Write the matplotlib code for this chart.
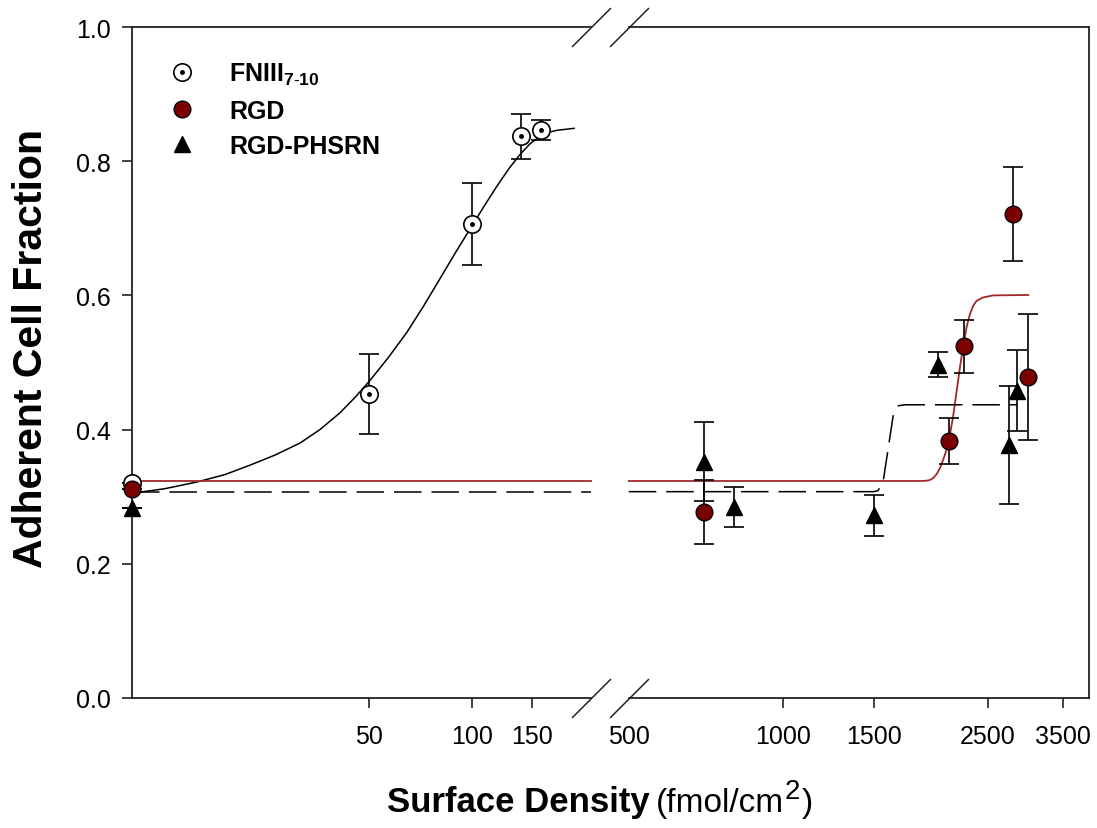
import numpy as np
import matplotlib
matplotlib.use("Agg")
import matplotlib.pyplot as plt
from matplotlib.path import Path
from matplotlib.legend_handler import HandlerTuple

plt.rcParams["font.family"] = ["Liberation Sans", "DejaVu Sans"]
plt.rcParams["mathtext.fontset"] = "custom"
plt.rcParams["mathtext.rm"] = "Liberation Sans"
plt.rcParams["mathtext.bf"] = "Liberation Sans:bold"

# --- data ---
fn_x = [10, 50, 100, 140, 160]
fn_y = [0.320, 0.453, 0.706, 0.837, 0.846]
fn_err = [0.0, 0.059, 0.061, 0.033, 0.015]

rgd_x = [10, 700, 2100, 2250, 2800, 3000]
rgd_y = [0.311, 0.277, 0.383, 0.524, 0.721, 0.479]
rgd_err = [0.0, 0.048, 0.035, 0.040, 0.070, 0.094]

ph_x = [10, 700, 800, 1500, 2000, 2750, 2850]
ph_y = [0.283, 0.352, 0.285, 0.272, 0.497, 0.377, 0.458]
ph_err = [0.0, 0.059, 0.030, 0.030, 0.019, 0.088, 0.060]

# fitted curves (left and right of the axis break)
fn_fit_x = [10, 12.55, 15.6, 18.83, 22.3, 26.4, 31.3, 35.8, 41.0, 45.4, 50, 56.8, 64.5, 72.4,
            80.7, 89.9, 100, 109.4, 118.7, 128.7, 138.7, 148.4, 158.8, 168, 178, 200]
fn_fit_y = [0.305, 0.312, 0.322, 0.333, 0.347, 0.362, 0.380, 0.400, 0.425, 0.448, 0.472, 0.507,
            0.545, 0.585, 0.625, 0.665, 0.703, 0.735, 0.763, 0.789, 0.810, 0.826, 0.837, 0.843,
            0.846, 0.849]

rgd_fit_left_x = [10, 224]
rgd_fit_left_y = [0.3234, 0.3234]
rgd_fit_right_x = [500, 1850, 1900, 1931, 1960, 1990, 2020, 2050, 2075, 2100, 2140, 2176, 2210,
                   2241, 2275, 2309, 2345, 2380, 2450, 2564, 3000]
rgd_fit_right_y = [0.3234, 0.3234, 0.3238, 0.325, 0.328, 0.334, 0.343, 0.356, 0.368, 0.383,
                   0.418, 0.458, 0.495, 0.525, 0.553, 0.572, 0.585, 0.592, 0.597, 0.600, 0.6006]

ph_fit_left_x = [10, 224]
ph_fit_left_y = [0.3075, 0.3075]
ph_fit_right_x = [500, 1500, 1529, 1565, 1599, 1636, 1674, 1726, 2850]
ph_fit_right_y = [0.3075, 0.3075, 0.309, 0.323, 0.37, 0.42, 0.4355, 0.437, 0.437]

xticks = [50, 100, 150, 500, 1000, 1500, 2500, 3500]
yticks = [0.0, 0.2, 0.4, 0.6, 0.8, 1.0]

# --- broken log axis: 10..224 on the left, 500..~3940 on the right ---
X_BRK, X_R0, X_MAX = 224.3, 500.0, 3939
DEC_L, DEC_R, U_R0 = 340.2, 513.4, 497.3
U_BRK = (np.log10(X_BRK) - 1) * DEC_L


def fwd(x):
    x = np.asarray(x, float)
    lx = np.log10(np.clip(x, 1e-9, None))
    uL = (lx - 1) * DEC_L
    uR = U_R0 + (lx - np.log10(X_R0)) * DEC_R
    uB = U_BRK + (lx - np.log10(X_BRK)) / (np.log10(X_R0) - np.log10(X_BRK)) * (U_R0 - U_BRK)
    return np.where(x <= X_BRK, uL, np.where(x >= X_R0, uR, uB))


def inv(u):
    u = np.asarray(u, float)
    lL = 1 + u / DEC_L
    lR = np.log10(X_R0) + (u - U_R0) / DEC_R
    lB = np.log10(X_BRK) + (u - U_BRK) / (U_R0 - U_BRK) * (np.log10(X_R0) - np.log10(X_BRK))
    return 10 ** np.where(u <= U_BRK, lL, np.where(u >= U_R0, lR, lB))


fig = plt.figure(figsize=(10.97, 8.29), dpi=100)
ax = fig.add_axes([131.5 / 1097, 130 / 829, 957.5 / 1097, 671 / 829])
ax.set_xscale("function", functions=(fwd, inv))
ax.set_xlim(10, X_MAX)
ax.set_ylim(0, 1)

red_line = "#a3282b"
red_fill = "#7b0000"
frame = "#222222"

ax.plot(fn_fit_x, fn_fit_y, color="black", lw=1.1, zorder=2)
ax.plot(rgd_fit_left_x, rgd_fit_left_y, color=red_line, lw=1.3, zorder=2)
ax.plot(rgd_fit_right_x, rgd_fit_right_y, color=red_line, lw=1.3, zorder=2)
ax.plot(ph_fit_left_x, ph_fit_left_y, color="black", lw=1.1, dashes=(18, 6.5), zorder=2)
ax.plot(ph_fit_right_x, ph_fit_right_y, color="black", lw=1.1, dashes=(18, 6.5), zorder=2)

eb = dict(ecolor="black", elinewidth=1.2, capsize=7.5, capthick=1.2, clip_on=False, ls="none")
ax.errorbar(fn_x, fn_y, yerr=fn_err, fmt="none", zorder=3, **eb)
ax.errorbar(rgd_x, rgd_y, yerr=rgd_err, fmt="none", zorder=3, **eb)
ax.errorbar(ph_x, ph_y, yerr=ph_err, fmt="none", zorder=3, **eb)

h_fn, = ax.plot(fn_x, fn_y, "o", ms=12.5, mfc="white", mec="black", mew=1.2, zorder=4, clip_on=False)
h_dot, = ax.plot(fn_x, fn_y, "o", ms=2.5, mfc="black", mec="black", zorder=5, clip_on=False)
h_rgd, = ax.plot(rgd_x, rgd_y, "o", ms=12, mfc=red_fill, mec="black", mew=1.0, zorder=6, clip_on=False)
h_ph, = ax.plot(ph_x, ph_y, "^", ms=12, mfc="black", mec="black", zorder=7, clip_on=False)

# axes frame with break
for s in ["top", "bottom"]:
    ax.spines[s].set_visible(False)
for s in ["left", "right"]:
    ax.spines[s].set_linewidth(1.3)
    ax.spines[s].set_color(frame)
xt = ax.get_xaxis_transform()
for yy in [0, 1]:
    ax.plot([10, X_BRK], [yy, yy], color=frame, lw=1.3, transform=xt, clip_on=False, solid_capstyle="projecting")
    ax.plot([X_R0, X_MAX], [yy, yy], color=frame, lw=1.3, transform=xt, clip_on=False, solid_capstyle="projecting")
slash = Path([(-1, -1), (1, 1)], [Path.MOVETO, Path.LINETO])
ax.plot([X_BRK, X_R0, X_BRK, X_R0], [0, 0, 1, 1], ls="none", marker=slash, ms=28, mew=1.1,
        mec=frame, mfc="none", transform=xt, clip_on=False)

ax.set_xticks(xticks)
ax.set_xticklabels([str(t) for t in xticks])
ax.xaxis.set_minor_locator(matplotlib.ticker.NullLocator())
ax.set_yticks(yticks)
ax.set_yticklabels(["%.1f" % t for t in yticks])
ax.tick_params(axis="both", direction="out", length=7, width=1.2, labelsize=18, color=frame)
ax.tick_params(axis="x", pad=12)
ax.tick_params(axis="y", pad=8)
ax.xaxis.get_major_ticks()[3].tick1line.set_visible(False)

fig.text(31 / 1097, 1 - 348 / 829, "Adherent Cell Fraction", rotation=90, ha="center", va="center",
         fontsize=29.5, fontweight="bold")

# x title: bold part, then regular unit with a large raised "2"
base = 1 - 812 / 829
fig.text(650 / 1097, base, "Surface Density", ha="right", va="baseline", fontsize=25, fontweight="bold")
r = fig.canvas.get_renderer()
t1 = fig.text(656 / 1097, base, "(fmol/cm", ha="left", va="baseline", fontsize=24)
x1 = t1.get_window_extent(r).x1 / 1097
t2 = fig.text(x1 + 1 / 1097, base + 13 / 829, "2", ha="left", va="baseline", fontsize=20)
x2 = t2.get_window_extent(r).x1 / 1097
fig.text(x2 + 1 / 1097, base, ")", ha="left", va="baseline", fontsize=24)

leg = ax.legend([(h_fn, h_dot), h_rgd, h_ph],
                [r"FNIII$_{\mathbf{7\text{-}10}}$", "RGD", "RGD-PHSRN"],
                handler_map={tuple: HandlerTuple(ndivide=1)},
                loc="upper left", bbox_to_anchor=(0.042, 0.949), frameon=False,
                prop={"weight": "bold", "size": 18}, handlelength=0.85, handletextpad=1.45,
                borderaxespad=0, borderpad=0, labelspacing=0.45)

fig.savefig("out.png", dpi=100)
